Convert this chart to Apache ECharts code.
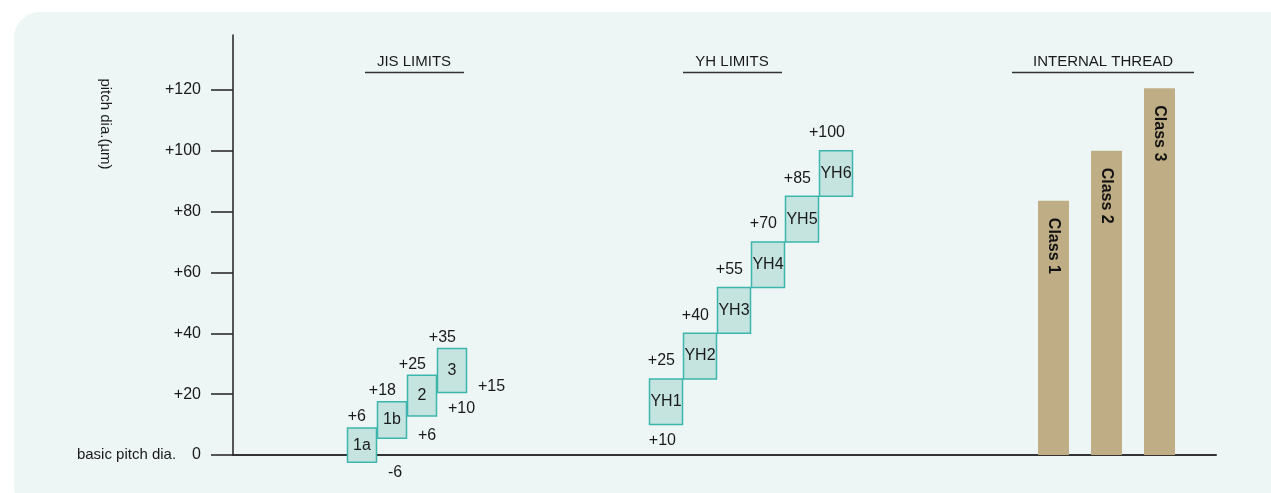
<!DOCTYPE html>
<html lang="en">
<head>
    <meta charset="UTF-8">
    <title>Pitch diameter limits</title>
    <script src="https://cdn.jsdelivr.net/npm/echarts@6/dist/echarts.min.js"></script>
    <style>
        html, body { margin: 0; padding: 0; background: #fff; }
        #main { width: 1271px; height: 493px; }
    </style>
</head>
<body>
<div id="main"></div>

<script type="text/javascript">
    // y axis ticks
    var yTicks = [0, 20, 40, 60, 80, 100, 120];

    // JIS limits: drawn box range and printed limits
    var jisNames = ['1a', '1b', '2', '3'];
    var jisLow = [-2.4, 5.5, 12.8, 20.5];
    var jisHigh = [8.9, 17.5, 26.2, 35];
    var jisUpperText = ['+6', '+18', '+25', '+35'];
    var jisLowerText = ['-6', '+6', '+10', '+15'];

    // YH limits
    var yhNames = ['YH1', 'YH2', 'YH3', 'YH4', 'YH5', 'YH6'];
    var yhLow = [10, 25, 40, 55, 70, 85];
    var yhHigh = [25, 40, 55, 70, 85, 100];
    var yhUpperText = ['+25', '+40', '+55', '+70', '+85', '+100'];
    var yhLowerText = ['+10', '', '', '', '', ''];

    // internal thread classes
    var classNames = ['Class 1', 'Class 2', 'Class 3'];
    var classValues = [83.5, 100, 120.5];

    var FONT = "'Liberation Sans', Arial, sans-serif";
    var INK = '#1a1a1a';

    function textEl(x, y, str, align, size) {
        return {
            type: 'text', x: x, y: y,
            style: {
                text: str, fill: INK, font: size + 'px ' + FONT,
                align: align, verticalAlign: 'middle',
                textAlign: align, textVerticalAlign: 'middle'
            }
        };
    }

    // box + labels; lay holds the label offsets (pixels) for each group
    function boxRender(names, upper, lower, lay) {
        return function (params, api) {
            var i = params.dataIndex;
            var top = api.coord([api.value(0), api.value(2)]);
            var bot = api.coord([api.value(0), api.value(1)]);
            var w = api.size([1, 0])[0];
            var x0 = top[0] - w / 2, x1 = top[0] + w / 2;
            var kids = [
                {
                    type: 'rect',
                    shape: {x: x0 + 0.5, y: top[1], width: w - 1, height: bot[1] - top[1]},
                    style: {fill: '#c5e4e0', stroke: '#3cb5ac', lineWidth: 1.5}
                },
                textEl(top[0], (top[1] + bot[1]) / 2, names[i], 'center', lay.nameSize),
                textEl(x0 + lay.upDx, top[1] + lay.upDy, upper[i], 'right', 16)
            ];
            if (lower[i]) {
                var lx = lay.lowAlign === 'left' ? x1 + lay.lowDx : x0 + lay.lowDx;
                var dy = lay.lowDy instanceof Array ? lay.lowDy[i] : lay.lowDy;
                kids.push(textEl(lx, bot[1] + dy, lower[i], lay.lowAlign, 16));
            }
            return {type: 'group', children: kids};
        };
    }

    var chart = echarts.init(document.getElementById('main'));

    var hiddenY = function (idx) {
        return {type: 'value', gridIndex: idx, min: 0, max: 138, show: false};
    };
    var hiddenX = function (idx, data) {
        return {type: 'category', gridIndex: idx, data: data, show: false, boundaryGap: true};
    };

    var option = {
        animation: false,
        textStyle: {fontFamily: FONT},
        grid: [
            {left: 233, right: 55, top: 35, bottom: 38},
            {left: 347, width: 120, top: 35, bottom: 38},
            {left: 649, width: 204, top: 35, bottom: 38},
            {left: 1027, width: 159, top: 35, bottom: 38}
        ],
        xAxis: [
            {
                type: 'value', gridIndex: 0, min: 0, max: 1,
                axisLine: {show: true, lineStyle: {color: '#333', width: 2}},
                axisTick: {show: false}, axisLabel: {show: false}, splitLine: {show: false}
            },
            hiddenX(1, jisNames),
            hiddenX(2, yhNames),
            hiddenX(3, classNames)
        ],
        yAxis: [
            {
                type: 'value', gridIndex: 0, min: 0, max: 138, interval: 20,
                axisLine: {show: true, lineStyle: {color: '#222', width: 1.5}},
                axisTick: {show: true, customValues: yTicks, length: 22, lineStyle: {color: '#222', width: 1.5}},
                axisLabel: {
                    customValues: yTicks, margin: 32, color: INK, fontSize: 16, fontFamily: FONT,
                    formatter: function (v) {
                        return v === 0 ? '{a|basic pitch dia.}{b|0}' : '+' + v;
                    },
                    rich: {
                        a: {fontSize: 15, color: INK, fontFamily: FONT},
                        b: {fontSize: 16, color: INK, fontFamily: FONT, padding: [0, 0, 0, 16]}
                    }
                },
                splitLine: {show: false}
            },
            hiddenY(1), hiddenY(2), hiddenY(3)
        ],
        graphic: [
            {
                type: 'rect', z: -10, silent: true,
                shape: {x: 14, y: 12, width: 1290, height: 500, r: 26},
                style: {fill: '#edf6f5'}
            },
            {
                type: 'text', x: 105, y: 124, rotation: -Math.PI / 2,
                style: {text: 'pitch dia.(µm)', fill: INK, font: '15px ' + FONT,
                    align: 'center', verticalAlign: 'middle', textAlign: 'center', textVerticalAlign: 'middle'}
            },
            {
                type: 'text', x: 414, y: 62,
                style: {text: 'JIS LIMITS', fill: INK, font: '15px ' + FONT,
                    align: 'center', verticalAlign: 'middle', textAlign: 'center', textVerticalAlign: 'middle'}
            },
            {type: 'line', shape: {x1: 365, y1: 72.5, x2: 464, y2: 72.5}, style: {stroke: '#333', lineWidth: 1.5}},
            {
                type: 'text', x: 732, y: 62,
                style: {text: 'YH LIMITS', fill: INK, font: '15px ' + FONT,
                    align: 'center', verticalAlign: 'middle', textAlign: 'center', textVerticalAlign: 'middle'}
            },
            {type: 'line', shape: {x1: 683, y1: 72.5, x2: 782, y2: 72.5}, style: {stroke: '#333', lineWidth: 1.5}},
            {
                type: 'text', x: 1103, y: 62,
                style: {text: 'INTERNAL THREAD', fill: INK, font: '15px ' + FONT,
                    align: 'center', verticalAlign: 'middle', textAlign: 'center', textVerticalAlign: 'middle'}
            },
            {type: 'line', shape: {x1: 1012, y1: 72.5, x2: 1194, y2: 72.5}, style: {stroke: '#333', lineWidth: 1.5}}
        ],
        series: [
            {
                name: 'JIS', type: 'custom', xAxisIndex: 1, yAxisIndex: 1, clip: false, z: 5,
                renderItem: boxRender(jisNames, jisUpperText, jisLowerText,
                    {nameSize: 16, upDx: 19, upDy: -11, lowAlign: 'left', lowDx: 11, lowDy: [10, -3, -7, -6]}),
                data: jisNames.map(function (n, i) { return [i, jisLow[i], jisHigh[i]]; })
            },
            {
                name: 'YH', type: 'custom', xAxisIndex: 2, yAxisIndex: 2, clip: false, z: 5,
                renderItem: boxRender(yhNames, yhUpperText, yhLowerText,
                    {nameSize: 16, upDx: 26, upDy: -18, lowAlign: 'right', lowDx: 27, lowDy: 16}),
                data: yhNames.map(function (n, i) { return [i, yhLow[i], yhHigh[i]]; })
            },
            {
                name: 'Internal thread', type: 'bar', xAxisIndex: 3, yAxisIndex: 3,
                barWidth: 31,
                itemStyle: {color: '#bfae85'},
                label: {
                    show: true, position: 'insideTop', distance: 17, rotate: -90,
                    align: 'left', verticalAlign: 'middle',
                    formatter: '{b}', color: '#111', fontSize: 16, fontWeight: 'bold', fontFamily: FONT
                },
                data: classValues
            }
        ]
    };

    chart.setOption(option);
</script>
</body>
</html>
